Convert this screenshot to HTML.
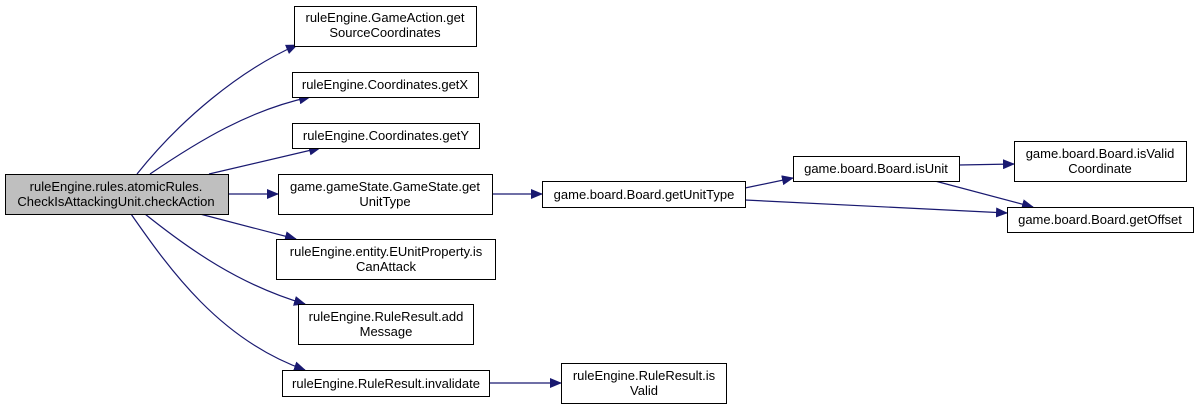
<!DOCTYPE html>
<html><head><meta charset="utf-8"><style>
html,body{margin:0;padding:0;background:#fff;}
svg text{font-family:"Liberation Sans",Arial,sans-serif;font-size:13px;fill:#000;}
</style></head><body>
<svg width="1195" height="409" viewBox="0 0 1195 409" xmlns="http://www.w3.org/2000/svg">
<defs><marker id="a" markerWidth="12" markerHeight="10" refX="11" refY="5" orient="auto" markerUnits="userSpaceOnUse"><path d="M0,0 L12,5 L0,10 Z" fill="#191970"/></marker></defs>
<g fill="none" stroke="#191970" stroke-width="1.2" marker-end="url(#a)">
<path d="M137,174 C180,120 240,70 297,45"/>
<path d="M150,174 C200,140 250,110 310,97"/>
<path d="M209,174 L320,148"/>
<path d="M228,194 L278,194"/>
<path d="M200,214 L296,239"/>
<path d="M145,214 C190,250 240,285 305,304"/>
<path d="M131,214 C170,270 220,340 305,370"/>
<path d="M492,194 L542,194"/>
<path d="M489,383 L561,383"/>
<path d="M745,188 L793,178"/>
<path d="M959,165 L1014,164"/>
<path d="M935,181 L1033,207"/>
<path d="M745,200 L1007,213"/>
</g>
<g stroke="#000" stroke-width="1" fill="#fff">
<rect x="5.5" y="174.5" width="223" height="40" fill="#bfbfbf"/>
<rect x="294.5" y="6.5" width="182" height="40"/>
<rect x="292.5" y="72.5" width="186" height="25"/>
<rect x="292.5" y="123.5" width="187" height="25"/>
<rect x="278.5" y="174.5" width="214" height="40"/>
<rect x="276.5" y="239.5" width="219" height="40"/>
<rect x="298.5" y="304.5" width="175" height="40"/>
<rect x="282.5" y="370.5" width="207" height="26"/>
<rect x="542.5" y="181.5" width="203" height="26"/>
<rect x="793.5" y="156.5" width="166" height="25"/>
<rect x="1014.5" y="141.5" width="172" height="40"/>
<rect x="1007.5" y="207.5" width="186" height="25"/>
<rect x="561.5" y="363.5" width="165" height="40"/>
</g>
<g text-anchor="middle">
<text x="116" y="191">ruleEngine.rules.atomicRules.</text><text x="116" y="206">CheckIsAttackingUnit.checkAction</text>
<text x="385" y="22">ruleEngine.GameAction.get</text><text x="385" y="37">SourceCoordinates</text>
<text x="385" y="89">ruleEngine.Coordinates.getX</text>
<text x="386" y="140">ruleEngine.Coordinates.getY</text>
<text x="385" y="191">game.gameState.GameState.get</text><text x="385" y="206">UnitType</text>
<text x="386" y="256">ruleEngine.entity.EUnitProperty.is</text><text x="386" y="271">CanAttack</text>
<text x="386" y="321">ruleEngine.RuleResult.add</text><text x="386" y="336">Message</text>
<text x="386" y="388">ruleEngine.RuleResult.invalidate</text>
<text x="644" y="199">game.board.Board.getUnitType</text>
<text x="876" y="173">game.board.Board.isUnit</text>
<text x="1100" y="158">game.board.Board.isValid</text><text x="1100" y="173">Coordinate</text>
<text x="1100" y="224">game.board.Board.getOffset</text>
<text x="644" y="380">ruleEngine.RuleResult.is</text><text x="644" y="395">Valid</text>
</g>
</svg>
</body></html>
